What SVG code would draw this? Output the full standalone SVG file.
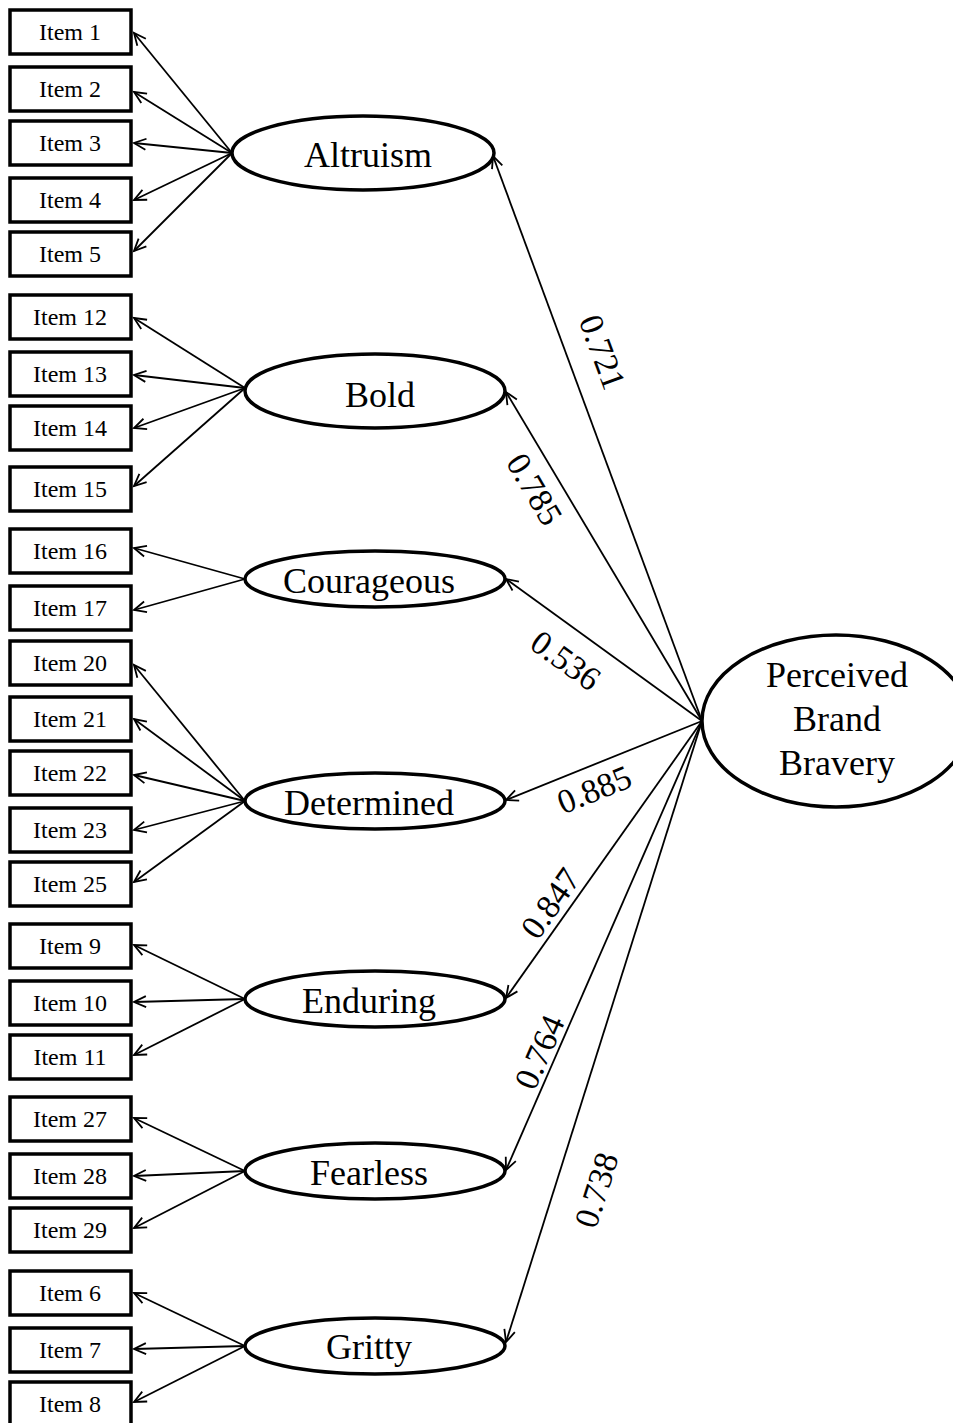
<svg xmlns="http://www.w3.org/2000/svg" width="953" height="1423" viewBox="0 0 953 1423">
<defs>
<marker id="ah" markerWidth="16" markerHeight="14" refX="14" refY="7" orient="auto" markerUnits="userSpaceOnUse" overflow="visible"><path d="M2,1.5 L14,7 L2,12.5" fill="none" stroke="#000" stroke-width="1.8"/></marker>
<style>
.box{fill:#fff;stroke:#000;stroke-width:3.5}
.ell{fill:#fff;stroke:#000;stroke-width:3.5}
.it{font-family:"Liberation Serif",serif;font-size:24px;text-anchor:middle;fill:#000}
.lt{font-family:"Liberation Serif",serif;font-size:36px;text-anchor:middle;fill:#000}
.num{font-family:"Liberation Serif",serif;font-size:34px;text-anchor:middle;fill:#000}
.c{stroke:#000;stroke-width:1.8;fill:none;marker-end:url(#ah)}
</style>
</defs>
<rect width="953" height="1423" fill="#fff"/>
<g id="connectors">
<line class="c" x1="232" y1="153" x2="134" y2="33"/>
<line class="c" x1="232" y1="153" x2="134" y2="92"/>
<line class="c" x1="232" y1="153" x2="134" y2="143"/>
<line class="c" x1="232" y1="153" x2="134" y2="200"/>
<line class="c" x1="232" y1="153" x2="134" y2="251"/>
<line class="c" x1="245" y1="388" x2="134" y2="318"/>
<line class="c" x1="245" y1="388" x2="134" y2="375"/>
<line class="c" x1="245" y1="388" x2="134" y2="428"/>
<line class="c" x1="245" y1="388" x2="134" y2="486"/>
<line class="c" x1="245" y1="579" x2="134" y2="548"/>
<line class="c" x1="245" y1="579" x2="134" y2="610"/>
<line class="c" x1="245" y1="801" x2="134" y2="665"/>
<line class="c" x1="245" y1="801" x2="134" y2="719"/>
<line class="c" x1="245" y1="801" x2="134" y2="775"/>
<line class="c" x1="245" y1="801" x2="134" y2="830"/>
<line class="c" x1="245" y1="801" x2="134" y2="882"/>
<line class="c" x1="245" y1="999" x2="134" y2="945"/>
<line class="c" x1="245" y1="999" x2="134" y2="1002"/>
<line class="c" x1="245" y1="999" x2="134" y2="1055"/>
<line class="c" x1="245" y1="1171" x2="134" y2="1118"/>
<line class="c" x1="245" y1="1171" x2="134" y2="1176"/>
<line class="c" x1="245" y1="1171" x2="134" y2="1228"/>
<line class="c" x1="245" y1="1346" x2="134" y2="1293"/>
<line class="c" x1="245" y1="1346" x2="134" y2="1349"/>
<line class="c" x1="245" y1="1346" x2="134" y2="1402"/>
<line class="c" x1="702" y1="721" x2="493" y2="156"/>
<line class="c" x1="702" y1="721" x2="506" y2="392"/>
<line class="c" x1="702" y1="721" x2="506" y2="579"/>
<line class="c" x1="702" y1="721" x2="506" y2="800"/>
<line class="c" x1="702" y1="721" x2="506" y2="998"/>
<line class="c" x1="702" y1="721" x2="506" y2="1170"/>
<line class="c" x1="702" y1="721" x2="506" y2="1342"/>
<g id="labels">
<text class="num" transform="translate(603,352) rotate(69.7)" dy="12">0.721</text>
<text class="num" transform="translate(535,489) rotate(59.3)" dy="12">0.785</text>
<text class="num" transform="translate(566,660) rotate(35.8)" dy="12">0.536</text>
<text class="num" transform="translate(594,789) rotate(-22)" dy="12">0.885</text>
<text class="num" transform="translate(550,903) rotate(-54.7)" dy="12">0.847</text>
<text class="num" transform="translate(539,1052) rotate(-66.3)" dy="12">0.764</text>
<text class="num" transform="translate(596,1190) rotate(-72.4)" dy="12">0.738</text>
</g>
</g>
<g id="item1"><rect class="box" x="10" y="10" width="121" height="44"/><text class="it" x="70" y="40">Item 1</text></g>
<g id="item2"><rect class="box" x="10" y="67" width="121" height="44"/><text class="it" x="70" y="97">Item 2</text></g>
<g id="item3"><rect class="box" x="10" y="121" width="121" height="44"/><text class="it" x="70" y="151">Item 3</text></g>
<g id="item4"><rect class="box" x="10" y="178" width="121" height="44"/><text class="it" x="70" y="208">Item 4</text></g>
<g id="item5"><rect class="box" x="10" y="232" width="121" height="44"/><text class="it" x="70" y="262">Item 5</text></g>
<g id="item12"><rect class="box" x="10" y="295" width="121" height="44"/><text class="it" x="70" y="325">Item 12</text></g>
<g id="item13"><rect class="box" x="10" y="352" width="121" height="44"/><text class="it" x="70" y="382">Item 13</text></g>
<g id="item14"><rect class="box" x="10" y="406" width="121" height="44"/><text class="it" x="70" y="436">Item 14</text></g>
<g id="item15"><rect class="box" x="10" y="467" width="121" height="44"/><text class="it" x="70" y="497">Item 15</text></g>
<g id="item16"><rect class="box" x="10" y="529" width="121" height="44"/><text class="it" x="70" y="559">Item 16</text></g>
<g id="item17"><rect class="box" x="10" y="586" width="121" height="44"/><text class="it" x="70" y="616">Item 17</text></g>
<g id="item20"><rect class="box" x="10" y="641" width="121" height="44"/><text class="it" x="70" y="671">Item 20</text></g>
<g id="item21"><rect class="box" x="10" y="697" width="121" height="44"/><text class="it" x="70" y="727">Item 21</text></g>
<g id="item22"><rect class="box" x="10" y="751" width="121" height="44"/><text class="it" x="70" y="781">Item 22</text></g>
<g id="item23"><rect class="box" x="10" y="808" width="121" height="44"/><text class="it" x="70" y="838">Item 23</text></g>
<g id="item25"><rect class="box" x="10" y="862" width="121" height="44"/><text class="it" x="70" y="892">Item 25</text></g>
<g id="item9"><rect class="box" x="10" y="924" width="121" height="44"/><text class="it" x="70" y="954">Item 9</text></g>
<g id="item10"><rect class="box" x="10" y="981" width="121" height="44"/><text class="it" x="70" y="1011">Item 10</text></g>
<g id="item11"><rect class="box" x="10" y="1035" width="121" height="44"/><text class="it" x="70" y="1065">Item 11</text></g>
<g id="item27"><rect class="box" x="10" y="1097" width="121" height="44"/><text class="it" x="70" y="1127">Item 27</text></g>
<g id="item28"><rect class="box" x="10" y="1154" width="121" height="44"/><text class="it" x="70" y="1184">Item 28</text></g>
<g id="item29"><rect class="box" x="10" y="1208" width="121" height="44"/><text class="it" x="70" y="1238">Item 29</text></g>
<g id="item6"><rect class="box" x="10" y="1271" width="121" height="44"/><text class="it" x="70" y="1301">Item 6</text></g>
<g id="item7"><rect class="box" x="10" y="1328" width="121" height="44"/><text class="it" x="70" y="1358">Item 7</text></g>
<g id="item8"><rect class="box" x="10" y="1382" width="121" height="44"/><text class="it" x="70" y="1412">Item 8</text></g>
<g id="altruism"><ellipse class="ell" cx="363" cy="153" rx="131" ry="37"/><text class="lt" x="368" y="167">Altruism</text></g>
<g id="bold"><ellipse class="ell" cx="375" cy="391" rx="130" ry="37"/><text class="lt" x="380" y="407">Bold</text></g>
<g id="courageous"><ellipse class="ell" cx="375" cy="579" rx="130" ry="28"/><text class="lt" x="369" y="593">Courageous</text></g>
<g id="determined"><ellipse class="ell" cx="375" cy="801" rx="130" ry="28"/><text class="lt" x="369" y="815">Determined</text></g>
<g id="enduring"><ellipse class="ell" cx="375" cy="999" rx="130" ry="28"/><text class="lt" x="369" y="1013">Enduring</text></g>
<g id="fearless"><ellipse class="ell" cx="375" cy="1171" rx="130" ry="28"/><text class="lt" x="369" y="1185">Fearless</text></g>
<g id="gritty"><ellipse class="ell" cx="375" cy="1346" rx="130" ry="28"/><text class="lt" x="369" y="1359">Gritty</text></g>
<g id="perceived"><ellipse class="ell" cx="836" cy="721" rx="134" ry="86"/><text class="lt" x="837" y="687">Perceived</text><text class="lt" x="837" y="731">Brand</text><text class="lt" x="837" y="775">Bravery</text></g>
</svg>
